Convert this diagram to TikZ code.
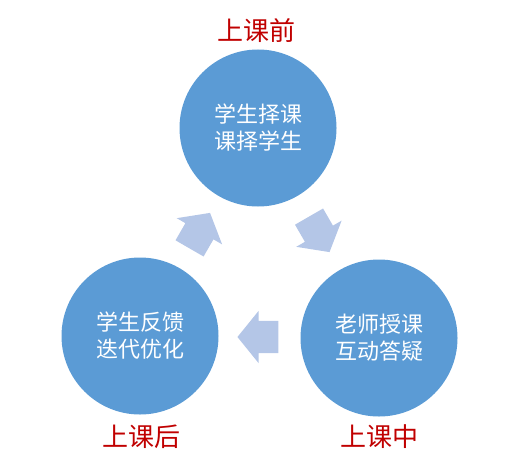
\documentclass[tikz,border=0pt]{standalone}
\usepackage{fontspec}
\setmainfont{Noto Sans CJK SC}
\usetikzlibrary{shapes.arrows, calc}
\definecolor{ballblue}{RGB}{91,155,213}
\definecolor{flowblue}{RGB}{180,198,231}
\definecolor{stagered}{RGB}{192,0,0}

\begin{document}
\begin{tikzpicture}[x=1pt, y=-1pt,
    ball/.style={circle, fill=ballblue, minimum size=157pt, inner sep=0pt, text=white,
        font=\fontsize{22}{27}\selectfont, align=center},
    flow/.style={single arrow, fill=flowblue, minimum height=41pt, inner xsep=0pt,
        inner ysep=16pt, single arrow head extend=10pt, single arrow tip angle=102},
    stage/.style={text=stagered, font=\fontsize{26}{30}\selectfont}]
            \useasboundingbox (0, 0) rectangle (510, 468);
            % the three phases
            \node[ball] (before) at (258, 128) {学生择课\\课择学生};
            \node[ball] (during) at (379, 338) {老师授课\\互动答疑};
            \node[ball] (after) at (140, 336) {学生反馈\\迭代优化};
            \node[stage] (beforelabel) at (256, 31) {上课前};
            \node[stage] (duringlabel) at (379, 437) {上课中};
            \node[stage] (afterlabel) at (141, 437) {上课后};
            % block arrows between the phases
            \node[flow, rotate=60, xshift=-5pt] (a2b) at ($(after)!0.5!(before)$) {};
            \node[flow, rotate=-60, xshift=-5pt] (b2d) at ($(before)!0.5!(during)$) {};
            \node[flow, rotate=180, xshift=-5pt] (d2a) at ($(during)!0.5!(after)$) {};
        \end{tikzpicture}
\end{document}
